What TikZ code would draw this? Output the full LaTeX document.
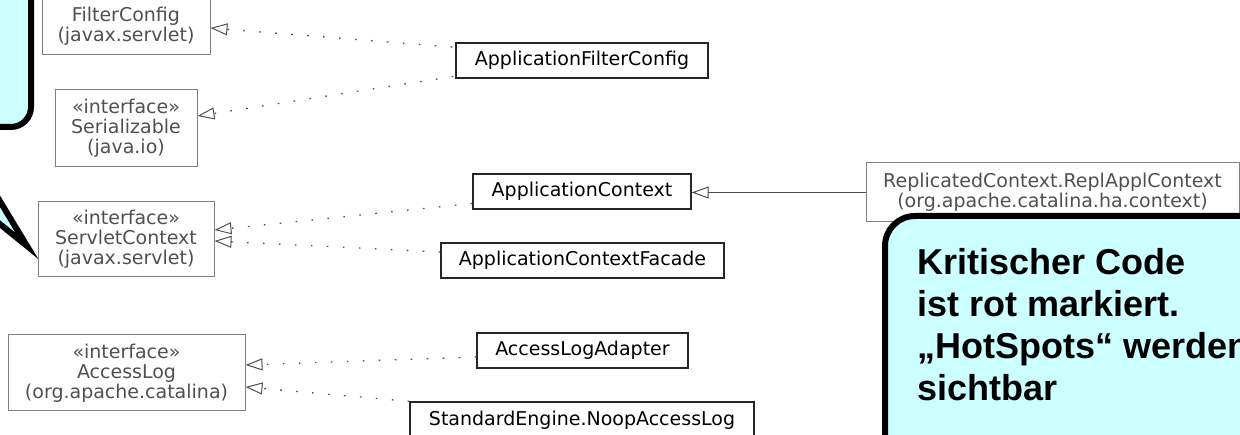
\documentclass[tikz,border=0pt]{standalone}
\usepackage{fontspec}
\setmainfont{DejaVu Sans}
\newfontfamily\notefont{Liberation Sans}
\usetikzlibrary{arrows.meta,calc}
\definecolor{notefill}{HTML}{CCFFFF}
\definecolor{extgray}{HTML}{808080}
\definecolor{exttext}{HTML}{505050}
\definecolor{dotgray}{HTML}{505050}
\begin{document}
\begin{tikzpicture}[x=1pt,y=-1pt,
  umlbase/.style={rectangle, inner sep=0pt, align=center,
    font=\fontsize{19}{20}\selectfont},
  extcls/.style={umlbase, draw=extgray, line width=1pt, text=exttext},
  owncls/.style={umlbase, draw=black!85, line width=1.4pt, text=black},
  realizes/.style={draw=dotgray, line width=1.3pt,
    dash pattern=on 1.6pt off 14.4pt,
    -{Triangle[open,length=17pt,width=12pt,line width=1pt]}},
  inherits/.style={draw=black!70, line width=1.3pt,
    -{Triangle[open,length=17pt,width=12pt,line width=1pt]}},
  callout/.style={fill=notefill, draw=black, line width=6pt, line join=miter}]

\useasboundingbox (0,0) rectangle (1240,435);
\clip (0,0) rectangle (1240,435);

% library interfaces and classes (grey)
\node[extcls, minimum width=168pt, minimum height=57pt] (fc) at (126,26.5)
  {FilterConfig\\(javax.servlet)};
\node[extcls, minimum width=142pt, minimum height=77pt] (ser) at (126,128.5)
  {«interface»\\Serializable\\(java.io)};
\node[extcls, minimum width=176pt, minimum height=75pt] (sc) at (126,239.5)
  {«interface»\\ServletContext\\(javax.servlet)};
\node[extcls, minimum width=237pt, minimum height=76pt] (al) at (126.5,373)
  {«interface»\\AccessLog\\(org.apache.catalina)};
\node[extcls, minimum width=373pt, minimum height=59pt] (rac) at (1052.5,192.5)
  {ReplicatedContext.ReplApplContext\\(org.apache.catalina.ha.context)};

% own classes (black)
\node[owncls, minimum width=252pt, minimum height=35pt] (afc) at (582,60.5)
  {ApplicationFilterConfig};
\node[owncls, minimum width=218pt, minimum height=35pt] (ac) at (582,191.5)
  {ApplicationContext};
\node[owncls, minimum width=283pt, minimum height=35pt] (acf) at (582.5,260.5)
  {ApplicationContextFacade};
\node[owncls, minimum width=211pt, minimum height=35pt] (ala) at (582.5,350.5)
  {AccessLogAdapter};
\node[owncls, minimum width=344pt, minimum height=36pt] (noop) at (582,420)
  {StandardEngine.NoopAccessLog};

% realizations
\draw[realizes] ([shift={(-3pt,13.5pt)}]afc.west) -- ([yshift=-1.5pt]fc.east);
\draw[realizes] ([shift={(-2pt,-16pt)}]afc.west) -- ([yshift=12.5pt]ser.east);
\draw[realizes] ([yshift=-12pt]ac.west) -- ([yshift=9.5pt]sc.east);
\draw[realizes] ([yshift=8.5pt]acf.west) -- ([yshift=-1.5pt]sc.east);
\draw[realizes] ([yshift=-6.5pt]ala.west) -- ([yshift=8pt]al.east);
\draw[realizes] (noop.north west) -- ([yshift=-14pt]al.east);

% generalization
\draw[inherits] (rac.west) -- (rac.west -| ac.east);

% callout on the left, pointing at ServletContext
\path[callout] (-300,-60) -- (31,-60) -- (31,107)
  .. controls (31,118) and (22,127) .. (11,127)
  -- (-45,127) -- (27,246) -- (-120,127) -- (-300,127) -- cycle;

% callout on the right
\path[callout] (885,470) -- (885,246)
  .. controls (885,229.4) and (898.4,216) .. (915,216)
  -- (1270,216) -- (1270,470) -- cycle;
% base anchor of a multi-line node sits on its last line
\node[anchor=base west, align=left, inner sep=0pt,
  font=\notefont\bfseries\fontsize{36}{42}\selectfont] (notetext) at (917,401)
  {Kritischer Code\\ist rot markiert.\\„HotSpots“ werden\\sichtbar};
\end{tikzpicture}
\end{document}
